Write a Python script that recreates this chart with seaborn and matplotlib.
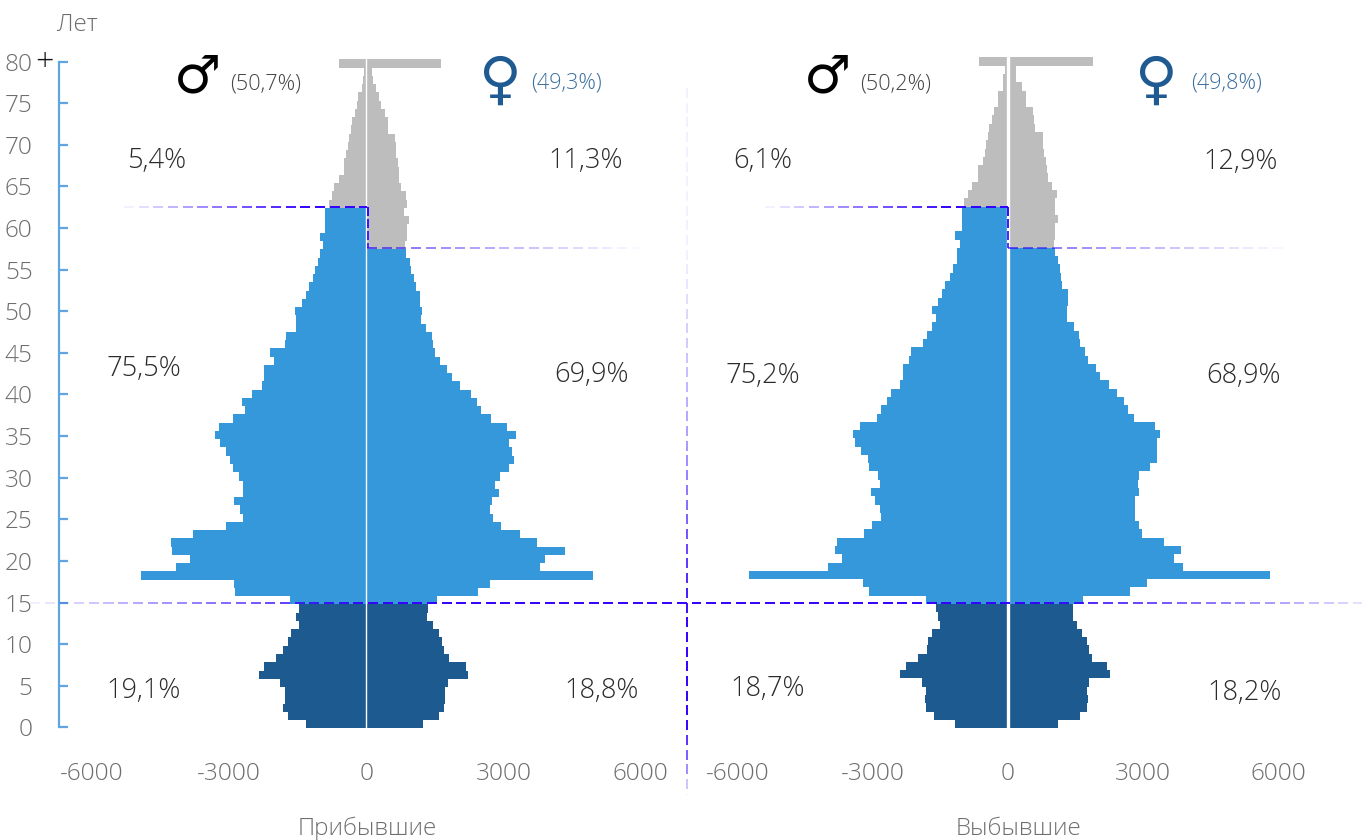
import numpy as np
import pandas as pd
import matplotlib
matplotlib.use("Agg")
import matplotlib.pyplot as plt
from matplotlib.lines import Line2D
import seaborn as sns

ages = list(range(81))
# values listed from age 80 down to age 0
arr_male = [590,45,80,95,190,200,240,320,335,370,410,445,480,500,590,700,760,810,
            895,895,895,1025,940,1025,1070,1135,1160,1265,1330,1420,1570,1550,1550,1750,1790,2120,2030,2250,2250,2290,
            2510,2730,2665,2925,3230,3320,3210,3080,2990,2925,2795,2710,2710,2905,2775,2710,3080,3800,4280,4260,3865,4170,4935,2905,2880,1680,
            1485,1530,1465,1660,1725,1830,1980,2240,2345,1880,1785,1785,1830,1725,1325]
arr_female = [1640,125,155,210,285,320,415,480,480,620,655,655,685,705,720,765,875,895,830,940,895,895,845,
              865,955,975,1050,1085,1180,1180,1215,1190,1310,1435,1455,1505,1610,1755,1865,2045,
              2280,2425,2500,2730,3080,3275,3125,3180,3225,3110,2925,2805,2905,2745,2695,2775,2950,3365,3735,4345,3910,3800,4960,2695,2440,1545,
              1355,1330,1465,1595,1660,1705,1815,2185,2230,1790,1725,1725,1705,1595,1245]
dep_male = [635,75,115,122,215,215,305,365,415,445,495,520,560,660,660,810,880,970,
            1030,1020,1030,1170,1070,1125,1125,1215,1300,1390,1460,1545,1685,1590,1700,1790,1880,2150,2210,2325,2325,2395,
            2595,2700,2815,2920,3280,3435,3390,3260,3120,3085,2900,2840,3035,2945,2840,2815,3015,3190,3810,3855,3700,3995,5745,3215,3100,1815,
            1605,1545,1515,1700,1780,1805,2005,2270,2395,1905,1815,1850,1830,1645,1180]
dep_female = [1895,170,170,305,400,400,545,575,610,775,775,805,840,865,895,985,1095,1050,1050,1115,1055,1040,1025,
              1040,1110,1165,1185,1210,1330,1330,1315,1315,1470,1585,1605,1700,1775,1965,2035,2250,
              2420,2580,2670,2800,3275,3380,3305,3305,3305,3145,2905,2890,2905,2825,2825,2830,2915,2985,3460,3850,3695,3895,5820,3090,2715,1675,
              1455,1455,1540,1650,1745,1805,1875,2210,2270,1805,1760,1780,1760,1605,1115]
child_limit = 14
male_limit = 62
female_limit = 57
x_ticks = [-6000, -3000, 0, 3000, 6000]
y_ticks = list(range(0, 81, 5))
y_labels = [str(a) for a in y_ticks]
panel_titles = ["Прибывшие", "Выбывшие"]

W, H = 1362, 840
sns.set_theme(style="white")
plt.rcParams["font.family"] = ["Open Sans", "DejaVu Sans"]
fig = plt.figure(figsize=(W / 100, H / 100), dpi=100, facecolor="white")
COL = {"child": "#1C5A8F", "work": "#3498DA", "old": "#BDBDBD"}
TICK_COL = "#6e6e6e"


def frame(values, sign, limit):
    age = np.array(ages)
    v = np.array(values)[::-1] * sign
    grp = np.where(age <= child_limit, "child", np.where(age <= limit, "work", "old"))
    return pd.DataFrame({"age": age, "value": v, "group": grp})


def make_axes(x0, x1, zero, scale, y0age_px, yscale, male, female, line_w):
    top, bottom = 30, 752
    ax = fig.add_axes([x0 / W, 1 - bottom / H, (x1 - x0) / W, (bottom - top) / H])
    for d in (frame(male, -1, male_limit), frame(female, 1, female_limit)):
        sns.barplot(data=d, x="value", y="age", hue="group", palette=COL, hue_order=list(COL),
                    orient="y", native_scale=True, dodge=False, width=1.0, saturation=1,
                    linewidth=0, legend=False, ax=ax)
    ax.set_xlim((x0 - zero) / scale, (x1 - zero) / scale)
    ax.set_ylim((y0age_px - bottom) / yscale, (y0age_px - top) / yscale)
    ax.set_xlabel("")
    ax.set_ylabel("")
    ax.set_yticks([])
    ax.set_xticks(x_ticks)
    ax.set_xticklabels([str(t) for t in x_ticks])
    ax.tick_params(axis="x", length=0, pad=7, labelsize=17.6, labelcolor=TICK_COL)
    for lab in ax.get_xticklabels():
        lab.set_fontweight("light")
    for s in ax.spines.values():
        s.set_visible(False)
    ax.patch.set_alpha(0)
    ax.axvline(0, ymin=(bottom - 730) / (bottom - top), ymax=(bottom - 55) / (bottom - top),
               color="white", lw=line_w, zorder=5)
    return ax, (top, bottom)


ax1, (top, bottom) = make_axes(59, 680, 366.4, 0.0457, 724.2, 8.26, arr_male, arr_female, 1.0)
ax2, _ = make_axes(690, 1350, 1008.0, 0.045, 724.0, 8.28, dep_male, dep_female, 2.4)

# age axis of the left pyramid
axy = ax1.twinx()
axy.set_ylim((727.3 - bottom) / 8.32, (727.3 - top) / 8.32)
axy.yaxis.tick_left()
axy.set_yticks(y_ticks)
axy.set_yticklabels(y_labels, fontweight="light")
axy.tick_params(axis="y", direction="in", length=6.5, width=1.6, color="#5FA5E3",
                pad=19, labelsize=17.6, labelcolor=TICK_COL)
for k, s in axy.spines.items():
    s.set_visible(k == "left")
axy.spines["left"].set_color("#5FA5E3")
axy.spines["left"].set_linewidth(1.6)
axy.spines["left"].set_bounds(0, 80)
axy.grid(False)
ax1.grid(False)
ax2.grid(False)


def fig_text(x, y, s, size, color="#2b2b2b", weight="light", ha="center", **kw):
    return fig.text(x / W, 1 - y / H, s, fontsize=size, color=color, fontweight=weight,
                    ha=ha, va="center", **kw)


fig_text(77, 25, "Лет", 17.5, TICK_COL)
fig_text(44.5, 63, "+", 23, "#111111")
fig_text(367, 829, panel_titles[0], 17.4, TICK_COL)
fig_text(1019, 829, panel_titles[1], 17.4, TICK_COL)

labels = [(157, 161, "5,4%"), (586, 161, "11,3%"), (144, 369, "75,5%"), (592, 375, "69,9%"),
          (144, 691, "19,1%"), (602, 691, "18,8%"), (763, 161, "6,1%"), (1241, 162, "12,9%"),
          (763, 376, "75,2%"), (1244, 376, "68,9%"), (768, 689, "18,7%"), (1245, 693, "18,2%")]
for x, y, s in labels:
    fig_text(x, y, s, 19.6)

for x, y, s, c in [(266, 84, "(50,7%)", "#444444"), (567, 83, "(49,3%)", "#3A6EA0"),
                   (896, 84, "(50,2%)", "#444444"), (1227, 83, "(49,8%)", "#3A6EA0")]:
    fig_text(x, y, s, 15.6, c)
for x, y, s, c, fs in [(198, 77, "♂", "#000000", 38), (500, 81, "♀", "#1F5A92", 42),
                       (828, 77, "♂", "#000000", 38), (1156, 81, "♀", "#1F5A92", 42)]:
    fig.text(x / W, 1 - y / H, s, fontsize=fs, color=c, fontweight="bold", ha="center", va="center",
             family="DejaVu Sans")


def dashed(p0, p1, stops, period=14.7, on=10.0):
    """Dashed line whose opacity varies along its pixel length."""
    p0, p1 = np.array(p0, float), np.array(p1, float)
    L = np.linalg.norm(p1 - p0)
    u = (p1 - p0) / L
    for s in np.arange(0, L, period):
        a = float(np.interp(s + on / 2, [t * L for t, _ in stops], [v for _, v in stops]))
        e = min(s + on, L)
        q0, q1 = p0 + u * s, p0 + u * e
        fig.add_artist(Line2D([q0[0] / W, q1[0] / W], [1 - q0[1] / H, 1 - q1[1] / H],
                              transform=fig.transFigure, color="#3300FF", alpha=a, lw=1.4,
                              solid_capstyle="butt", zorder=10))


dashed((30, 603), (1362, 603), [(0, 0.05), (0.08, 0.35), (0.26, 1), (0.75, 1), (0.92, 0.45), (1, 0.12)])
dashed((687, 88), (687, 795), [(0, 0.06), (0.24, 0.06), (0.5, 0.4), (0.62, 0.65), (0.75, 1), (0.9, 1), (0.97, 0.4), (1, 0.05)])
dashed((124, 207), (367, 207), [(0, 0.03), (0.35, 0.5), (0.75, 1), (1, 1)])
dashed((367.7, 207), (367.7, 248), [(0, 1), (1, 0.8)], period=12, on=9)
dashed((367, 248), (640, 248), [(0, 0.65), (0.5, 0.3), (1, 0.02)])
dashed((765, 207), (1008, 207), [(0, 0.03), (0.35, 0.5), (0.75, 1), (1, 1)])
dashed((1008.3, 207), (1008.3, 248), [(0, 1), (1, 0.8)], period=12, on=9)
dashed((1008, 247.5), (1285, 247.5), [(0, 0.65), (0.5, 0.3), (1, 0.02)])

fig.savefig("out.png", dpi=100, facecolor="white")
